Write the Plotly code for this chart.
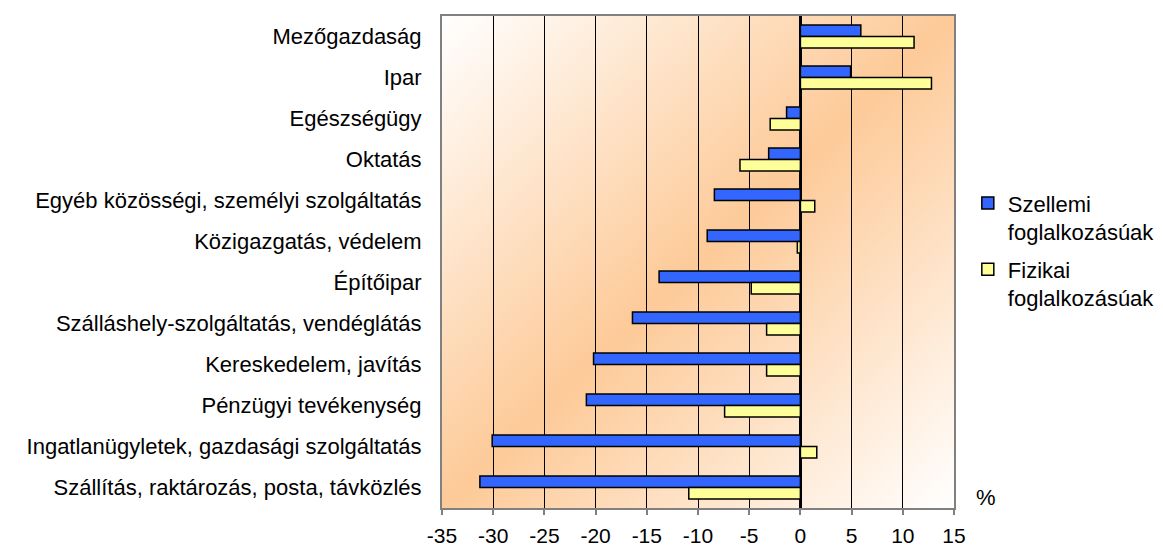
import base64
import plotly.graph_objects as go

categories = [
    "Mezőgazdaság",
    "Ipar",
    "Egészségügy",
    "Oktatás",
    "Egyéb közösségi, személyi szolgáltatás",
    "Közigazgatás, védelem",
    "Építőipar",
    "Szálláshely-szolgáltatás, vendéglátás",
    "Kereskedelem, javítás",
    "Pénzügyi tevékenység",
    "Ingatlanügyletek, gazdasági szolgáltatás",
    "Szállítás, raktározás, posta, távközlés",
]
szellemi = [5.9, 4.9, -1.35, -3.1, -8.4, -9.1, -13.8, -16.4, -20.2, -20.9, -30.1, -31.3]
fizikai = [11.1, 12.8, -2.95, -5.9, 1.4, -0.3, -4.8, -3.3, -3.3, -7.4, 1.6, -10.9]
series_names = ["Szellemi<br>foglalkozásúak", "Fizikai<br>foglalkozásúak"]
x_ticks = [-35, -30, -25, -20, -15, -10, -5, 0, 5, 10, 15]

FONT = "Liberation Sans, Arial, sans-serif"
FS = 22

svg = (
    '<svg xmlns="http://www.w3.org/2000/svg" width="512" height="492" '
    'viewBox="0 0 512 492" preserveAspectRatio="none">'
    '<defs><linearGradient id="g" x1="0" y1="0" x2="1" y2="1">'
    '<stop offset="0" stop-color="#FFFFFF"/>'
    '<stop offset="0.5" stop-color="#FDCA98"/>'
    '<stop offset="1" stop-color="#FFFFFF"/>'
    '</linearGradient></defs>'
    '<rect x="0" y="0" width="512" height="492" fill="url(#g)"/></svg>'
)
bg_src = "data:image/svg+xml;base64," + base64.b64encode(svg.encode()).decode()

fig = go.Figure()
fig.add_trace(go.Bar(
    y=categories, x=szellemi, orientation="h", name=series_names[0],
    marker=dict(color="#3366FF", line=dict(color="#000000", width=1.5)),
    legendgroup="a",
))
fig.add_trace(go.Bar(
    y=categories, x=fizikai, orientation="h", name=series_names[1],
    marker=dict(color="#FFFF99", line=dict(color="#000000", width=1.5)),
    legendgroup="b",
))

fig.update_layout(
    width=1155, height=542,
    margin=dict(l=434, r=209, t=8, b=42, autoexpand=False),
    paper_bgcolor="white",
    plot_bgcolor="rgba(0,0,0,0)",
    font=dict(family=FONT, size=FS, color="black"),
    barmode="group",
    bargap=0.44,
    bargroupgap=0,
    showlegend=True,
    legend=dict(
        x=1.027, y=0.662, xanchor="left", yanchor="top", valign="top",
        bgcolor="rgba(0,0,0,0)", traceorder="grouped", tracegroupgap=6,
        font=dict(family=FONT, size=FS, color="black"),
    ),
    images=[dict(
        source=bg_src, xref="paper", yref="paper", x=0, y=1,
        sizex=1, sizey=1, xanchor="left", yanchor="top",
        sizing="stretch", layer="below",
    )],
    annotations=[dict(
        text="%", xref="paper", yref="paper", x=1.062, y=0.022,
        xanchor="center", yanchor="middle", showarrow=False,
        font=dict(family=FONT, size=FS, color="black"),
    )],
)

fig.update_xaxes(
    range=[-35, 15], tickvals=x_ticks, ticktext=[str(v) for v in x_ticks],
    showgrid=True, gridcolor="#000000", gridwidth=1,
    zeroline=True, zerolinecolor="#000000", zerolinewidth=3,
    showline=True, linecolor="#808080", linewidth=2, mirror=True,
    ticks="outside", ticklen=5, tickcolor="#808080", tickwidth=2,
    ticklabelstandoff=3,
    tickfont=dict(family=FONT, size=21, color="black"),
    automargin=False, fixedrange=True,
)
fig.update_yaxes(
    autorange="reversed", type="category",
    showgrid=False, zeroline=False,
    showline=True, linecolor="#808080", linewidth=2, mirror=True,
    ticks="outside", ticklen=14, tickcolor="rgba(0,0,0,0)",
    tickfont=dict(family=FONT, size=FS, color="black"),
    automargin=False, fixedrange=True,
)

fig.write_html("out.html")
